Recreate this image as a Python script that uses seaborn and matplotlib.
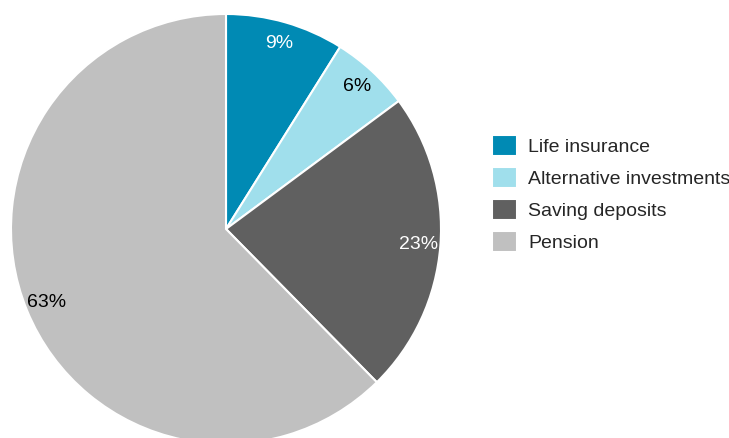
import matplotlib
matplotlib.use("Agg")
import matplotlib.pyplot as plt
import seaborn as sns

# Asset allocation shares (percent)
categories = ["Life insurance", "Alternative investments", "Saving deposits", "Pension"]
shares = [9, 6, 23, 63]
colors = ["#008AB4", "#A0DFEC", "#606060", "#C0C0C0"]
label_colors = ["white", "black", "white", "black"]

sns.set_theme(style="white")
plt.rcParams["font.family"] = ["Liberation Sans", "DejaVu Sans"]

W, H = 729, 438
fig = plt.figure(figsize=(W / 100, H / 100), dpi=100)

# pie centre (226, 229) px, radius 215 px
cx, cy, r = 226, 229, 215
ax = fig.add_axes([(cx - r) / W, (H - cy - r) / H, 2 * r / W, 2 * r / H])

total = sum(shares)
wedges, texts, autotexts = ax.pie(
    shares,
    colors=sns.color_palette(colors),
    startangle=90,
    counterclock=False,
    autopct=lambda p: f"{p * total / 100:.0f}%",
    pctdistance=0.9,
    wedgeprops=dict(edgecolor="white", linewidth=1.5),
    textprops=dict(fontsize=14),
)
for t, c in zip(autotexts, label_colors):
    t.set_color(c)
ax.set_xlim(-1, 1)
ax.set_ylim(-1, 1)
ax.set_aspect("equal")
ax.axis("off")

fig.legend(
    wedges, categories,
    loc="upper left",
    bbox_to_anchor=(492 / W, (H - 135) / H),
    frameon=False,
    fontsize=14,
    borderpad=0, borderaxespad=0,
    handlelength=1.3, handleheight=1.25,
    handletextpad=0.55, labelspacing=0.58,
)

fig.savefig("out.png", dpi=100)
